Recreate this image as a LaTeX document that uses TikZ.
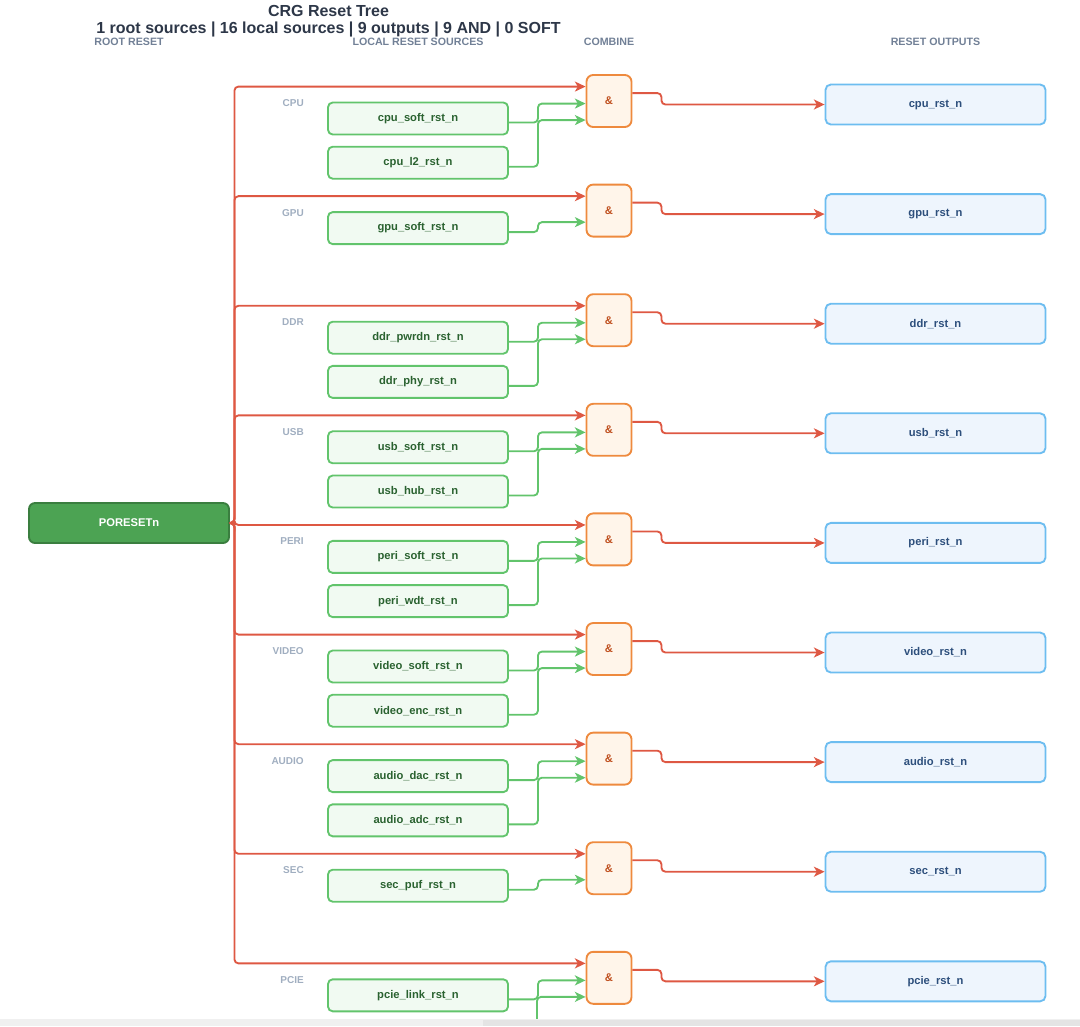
\documentclass[tikz,border=0pt]{standalone}
\usepackage{fontspec}
\setmainfont{Liberation Sans}
\usetikzlibrary{arrows.meta}
\usetikzlibrary{calc}

\definecolor{rstred}{HTML}{DE5843}
\definecolor{srcgreen}{HTML}{62C46C}
\definecolor{srcfill}{HTML}{F1FAF2}
\definecolor{srctext}{HTML}{2A6230}
\definecolor{gateorange}{HTML}{EE8A3E}
\definecolor{gatefill}{HTML}{FFF5EA}
\definecolor{gatetext}{HTML}{C0501F}
\definecolor{outblue}{HTML}{6DBDF0}
\definecolor{outfill}{HTML}{EEF5FD}
\definecolor{outtext}{HTML}{2D4F7C}
\definecolor{porfill}{HTML}{4CA353}
\definecolor{porborder}{HTML}{3A7E3F}
\definecolor{titletext}{HTML}{2D3748}
\definecolor{headtext}{HTML}{718096}
\definecolor{grptext}{HTML}{A0AEC0}
\definecolor{barlight}{HTML}{F0F0F0}
\definecolor{bardark}{HTML}{E4E4E4}

\tikzset{
	title/.style={text=titletext, font=\fontsize{12}{14}\selectfont\bfseries, inner sep=0pt},
	colhead/.style={text=headtext, font=\fontsize{8}{10}\selectfont\bfseries, inner sep=0pt},
	grplabel/.style={anchor=east, text=grptext, font=\fontsize{7.5}{9}\selectfont\bfseries, inner sep=0pt},
	porbox/.style={draw=porborder, fill=porfill, text=white, line width=1.4pt, rounded corners=4.5pt, minimum width=150pt, minimum height=30pt, font=\fontsize{8.4}{10}\selectfont\bfseries},
	srcbox/.style={draw=srcgreen, fill=srcfill, text=srctext, line width=1.4pt, rounded corners=3.5pt, minimum width=135pt, minimum height=24pt, font=\fontsize{8.4}{10}\selectfont\bfseries},
	andgate/.style={draw=gateorange, fill=gatefill, text=gatetext, line width=1.4pt, rounded corners=5pt, minimum width=33.75pt, minimum height=39pt, inner sep=0pt, font=\fontsize{8.4}{10}\selectfont\bfseries},
	outbox/.style={draw=outblue, fill=outfill, text=outtext, line width=1.4pt, rounded corners=4pt, minimum width=165pt, minimum height=30pt, font=\fontsize{8.4}{10}\selectfont\bfseries},
	rstline/.style={draw=rstred, line width=1.4pt, rounded corners=3pt, -{Stealth[length=8pt, width=7.5pt, inset=2.2pt]}},
	srcline/.style={draw=srcgreen, line width=1.4pt, rounded corners=3pt, -{Stealth[length=8pt, width=7.5pt, inset=2.2pt]}},
}

\begin{document}
\begin{tikzpicture}[x=0.75pt, y=-0.75pt]

	\useasboundingbox (0,0) rectangle (1080,1026);

	\node[title] (ttl) at (328.5,11) {CRG Reset Tree};
	\node[title] (sub) at (328.5,29) {1 root sources | 16 local sources | 9 outputs | 9 AND | 0 SOFT};
	\node[colhead] (hroot) at (129,42) {ROOT RESET};
	\node[colhead] (hlocal) at (418,42) {LOCAL RESET SOURCES};
	\node[colhead] (hcomb) at (609,42) {COMBINE};
	\node[colhead] (hout) at (935.5,42) {RESET OUTPUTS};

	\node[porbox] (por) at (129,523) {PORESETn};

	% CPU
	\node[grplabel] (lcpu) at (304,103) {CPU};
	\node[andgate] (gcpu) at (609,101) {\&};
	\node[srcbox] (cpusoft) at (418,118.5) {cpu\_soft\_rst\_n};
	\node[srcbox] (cpul2) at (418,162.7) {cpu\_l2\_rst\_n};
	\node[outbox] (ocpu) at (935.5,104.5) {cpu\_rst\_n};
	\draw[rstline] (por.east) -- ++(4.5,0) |- ($(gcpu.north west)+(0,12.5)$);
	\draw[srcline] ($(cpusoft.east)+(0,4)$) -- ++(29,0) |- ($(gcpu.north west)+(0,29.5)$);
	\draw[srcline] ($(cpul2.east)+(0,4)$) -- ++(29,0) |- ($(gcpu.north west)+(0,46)$);
	\draw[rstline] ($(gcpu.north east)+(0,19)$) -- ++(29,0) |- (ocpu.west);

	% GPU
	\node[grplabel] (lgpu) at (304,212.6) {GPU};
	\node[andgate] (ggpu) at (609,210.6) {\&};
	\node[srcbox] (gpusoft) at (418,228.1) {gpu\_soft\_rst\_n};
	\node[outbox] (ogpu) at (935.5,214.1) {gpu\_rst\_n};
	\draw[rstline] (por.east) -- ++(4.5,0) |- ($(ggpu.north west)+(0,12.5)$);
	\draw[srcline] ($(gpusoft.east)+(0,4)$) -- ++(29,0) |- ($(ggpu.north west)+(0,38.5)$);
	\draw[rstline] ($(ggpu.north east)+(0,19)$) -- ++(29,0) |- (ogpu.west);

	% DDR
	\node[grplabel] (lddr) at (304,322.2) {DDR};
	\node[andgate] (gddr) at (609,320.2) {\&};
	\node[srcbox] (ddrpwrdn) at (418,337.7) {ddr\_pwrdn\_rst\_n};
	\node[srcbox] (ddrphy) at (418,381.9) {ddr\_phy\_rst\_n};
	\node[outbox] (oddr) at (935.5,323.7) {ddr\_rst\_n};
	\draw[rstline] (por.east) -- ++(4.5,0) |- ($(gddr.north west)+(0,12.5)$);
	\draw[srcline] ($(ddrpwrdn.east)+(0,4)$) -- ++(29,0) |- ($(gddr.north west)+(0,29.5)$);
	\draw[srcline] ($(ddrphy.east)+(0,4)$) -- ++(29,0) |- ($(gddr.north west)+(0,46)$);
	\draw[rstline] ($(gddr.north east)+(0,19)$) -- ++(29,0) |- (oddr.west);

	% USB
	\node[grplabel] (lusb) at (304,431.8) {USB};
	\node[andgate] (gusb) at (609,429.8) {\&};
	\node[srcbox] (usbsoft) at (418,447.3) {usb\_soft\_rst\_n};
	\node[srcbox] (usbhub) at (418,491.5) {usb\_hub\_rst\_n};
	\node[outbox] (ousb) at (935.5,433.3) {usb\_rst\_n};
	\draw[rstline] (por.east) -- ++(4.5,0) |- ($(gusb.north west)+(0,12.5)$);
	\draw[srcline] ($(usbsoft.east)+(0,4)$) -- ++(29,0) |- ($(gusb.north west)+(0,29.5)$);
	\draw[srcline] ($(usbhub.east)+(0,4)$) -- ++(29,0) |- ($(gusb.north west)+(0,46)$);
	\draw[rstline] ($(gusb.north east)+(0,19)$) -- ++(29,0) |- (ousb.west);

	% PERI
	\node[grplabel] (lperi) at (304,541.4) {PERI};
	\node[andgate] (gperi) at (609,539.4) {\&};
	\node[srcbox] (perisoft) at (418,556.9) {peri\_soft\_rst\_n};
	\node[srcbox] (periwdt) at (418,601.1) {peri\_wdt\_rst\_n};
	\node[outbox] (operi) at (935.5,542.9) {peri\_rst\_n};
	\draw[rstline] (por.east) -- ++(4.5,0) |- ($(gperi.north west)+(0,12.5)$);
	\draw[srcline] ($(perisoft.east)+(0,4)$) -- ++(29,0) |- ($(gperi.north west)+(0,29.5)$);
	\draw[srcline] ($(periwdt.east)+(0,4)$) -- ++(29,0) |- ($(gperi.north west)+(0,46)$);
	\draw[rstline] ($(gperi.north east)+(0,19)$) -- ++(29,0) |- (operi.west);

	% VIDEO
	\node[grplabel] (lvideo) at (304,651) {VIDEO};
	\node[andgate] (gvideo) at (609,649) {\&};
	\node[srcbox] (videosoft) at (418,666.5) {video\_soft\_rst\_n};
	\node[srcbox] (videoenc) at (418,710.7) {video\_enc\_rst\_n};
	\node[outbox] (ovideo) at (935.5,652.5) {video\_rst\_n};
	\draw[rstline] (por.east) -- ++(4.5,0) |- ($(gvideo.north west)+(0,12.5)$);
	\draw[srcline] ($(videosoft.east)+(0,4)$) -- ++(29,0) |- ($(gvideo.north west)+(0,29.5)$);
	\draw[srcline] ($(videoenc.east)+(0,4)$) -- ++(29,0) |- ($(gvideo.north west)+(0,46)$);
	\draw[rstline] ($(gvideo.north east)+(0,19)$) -- ++(29,0) |- (ovideo.west);

	% AUDIO
	\node[grplabel] (laudio) at (304,760.6) {AUDIO};
	\node[andgate] (gaudio) at (609,758.6) {\&};
	\node[srcbox] (audiodac) at (418,776.1) {audio\_dac\_rst\_n};
	\node[srcbox] (audioadc) at (418,820.3) {audio\_adc\_rst\_n};
	\node[outbox] (oaudio) at (935.5,762.1) {audio\_rst\_n};
	\draw[rstline] (por.east) -- ++(4.5,0) |- ($(gaudio.north west)+(0,12.5)$);
	\draw[srcline] ($(audiodac.east)+(0,4)$) -- ++(29,0) |- ($(gaudio.north west)+(0,29.5)$);
	\draw[srcline] ($(audioadc.east)+(0,4)$) -- ++(29,0) |- ($(gaudio.north west)+(0,46)$);
	\draw[rstline] ($(gaudio.north east)+(0,19)$) -- ++(29,0) |- (oaudio.west);

	% SEC
	\node[grplabel] (lsec) at (304,870.2) {SEC};
	\node[andgate] (gsec) at (609,868.2) {\&};
	\node[srcbox] (secpuf) at (418,885.7) {sec\_puf\_rst\_n};
	\node[outbox] (osec) at (935.5,871.7) {sec\_rst\_n};
	\draw[rstline] (por.east) -- ++(4.5,0) |- ($(gsec.north west)+(0,12.5)$);
	\draw[srcline] ($(secpuf.east)+(0,4)$) -- ++(29,0) |- ($(gsec.north west)+(0,38.5)$);
	\draw[rstline] ($(gsec.north east)+(0,19)$) -- ++(29,0) |- (osec.west);

	% PCIE
	\node[grplabel] (lpcie) at (304,979.8) {PCIE};
	\node[andgate] (gpcie) at (609,977.8) {\&};
	\node[srcbox] (pcielink) at (418,995.3) {pcie\_link\_rst\_n};
	\node[outbox] (opcie) at (935.5,981.3) {pcie\_rst\_n};
	\coordinate (pciehid) at (537,1024);
	\draw[rstline] (por.east) -- ++(4.5,0) |- ($(gpcie.north west)+(0,12.5)$);
	\draw[srcline] ($(pcielink.east)+(0,4)$) -- ++(29,0) |- ($(gpcie.north west)+(0,29.5)$);
	\draw[srcline] (pciehid) |- ($(gpcie.north west)+(0,46)$);
	\draw[rstline] ($(gpcie.north east)+(0,19)$) -- ++(29,0) |- (opcie.west);

	\fill[barlight] (0,1019) rectangle (1080,1026);
	\fill[bardark] (483,1020) rectangle (1080,1026);

\end{tikzpicture}
\end{document}
